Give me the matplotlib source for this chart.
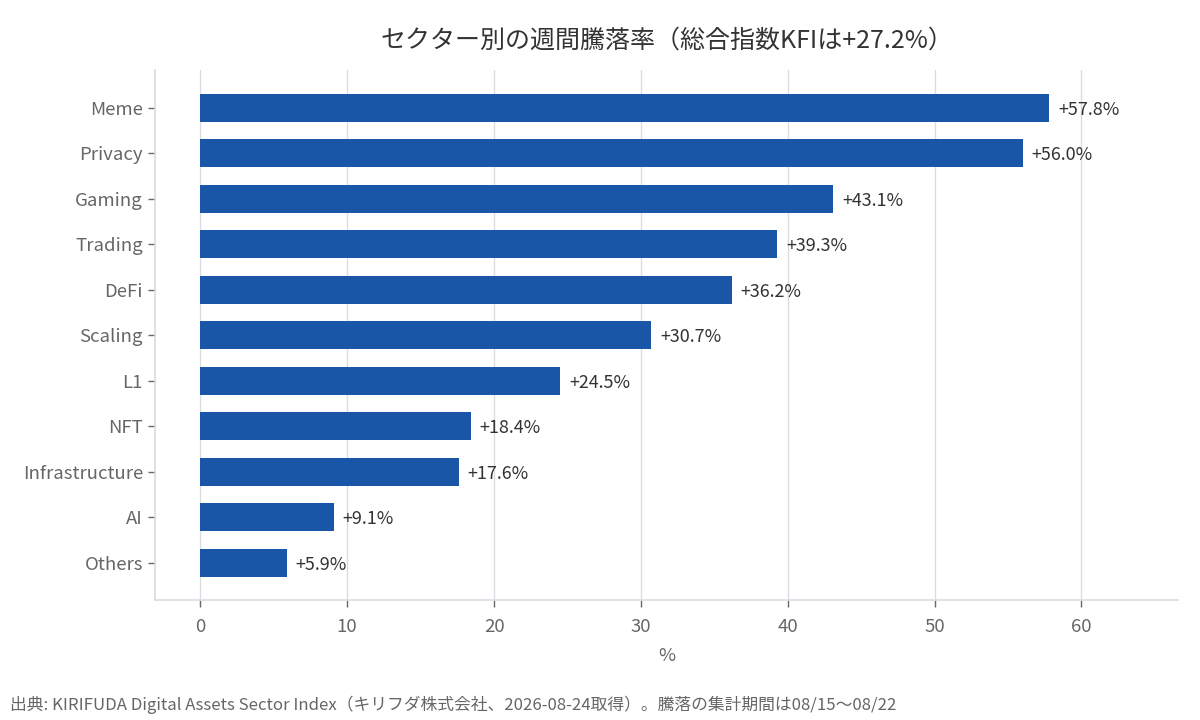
import matplotlib
matplotlib.use("Agg")
import matplotlib.pyplot as plt

plt.rcParams['font.family'] = ['Noto Sans CJK JP', 'DejaVu Sans']

sectors = ['Meme', 'Privacy', 'Gaming', 'Trading', 'DeFi', 'Scaling', 'L1',
           'NFT', 'Infrastructure', 'AI', 'Others']
changes = [57.8, 56.0, 43.1, 39.3, 36.2, 30.7, 24.5, 18.4, 17.6, 9.1, 5.9]

title = 'セクター別の週間騰落率（総合指数KFIは+27.2%）'
source = '出典: KIRIFUDA Digital Assets Sector Index（キリフダ株式会社、2026-08-24取得）。騰落の集計期間は08/15〜08/22'

bar_color = '#1a56a8'
spine_color = '#d9dce3'

fig = plt.figure(figsize=(12, 7.2), dpi=100)
ax = fig.add_axes([0.129, 0.167, 0.853, 0.736])

y = list(range(len(sectors)))
ax.barh(y, changes, height=0.62, color=bar_color, zorder=3)
for yi, v in zip(y, changes):
    ax.text(v + 0.6, yi, f'+{v:.1f}%', va='center_baseline', ha='left',
            fontsize=12.9, color='#333333', zorder=4)

ax.set_yticks(y)
ax.set_yticklabels(sectors)
ax.set_ylim(10.81, -0.83)
ax.set_xlim(-3.1, 66.6)
ax.set_xticks([0, 10, 20, 30, 40, 50, 60])

ax.grid(axis='x', color=spine_color, linewidth=1, zorder=0)
ax.set_axisbelow(True)
for s in ['top', 'right']:
    ax.spines[s].set_visible(False)
for s in ['left', 'bottom']:
    ax.spines[s].set_color(spine_color)
    ax.spines[s].set_linewidth(1.2)

ax.tick_params(axis='both', colors='#666666', labelsize=13.4, length=5, width=1)
ax.tick_params(axis='x', pad=8)
ax.set_xlabel('%', fontsize=13.4, color='#666666', labelpad=8)

ax.set_title(title, fontsize=18, color='#333333', pad=16)
fig.text(0.008, 0.008, source, fontsize=12.1, color='#666666', ha='left', va='bottom')

fig.savefig('out.png', dpi=100)
